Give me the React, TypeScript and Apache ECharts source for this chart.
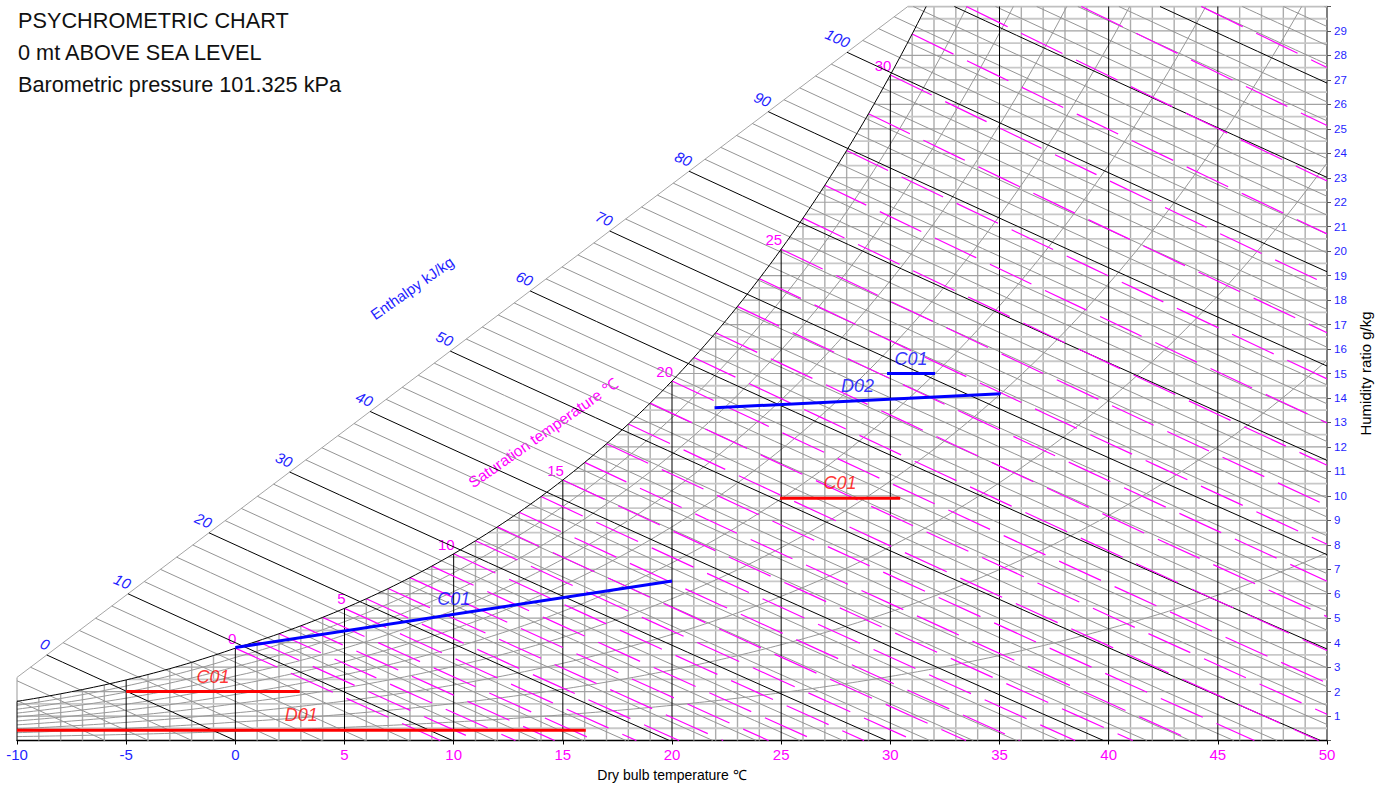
import React, { useEffect, useRef } from "react";
import * as echarts from "echarts";

const FONT = "'Liberation Sans', Arial, Helvetica, sans-serif";

// ---- texts / settings ----
const TITLE_LINES = ["PSYCHROMETRIC CHART", "0 mt ABOVE SEA LEVEL", "Barometric pressure 101.325 kPa"];
const PRESSURE_KPA = 101.325;
const DRY_BULB_MIN = -10;
const DRY_BULB_MAX = 50;
const DRY_BULB_TICK = 5;
const W_MIN = 0;
const W_MAX = 30;
const RH_LEVELS = [10, 20, 30, 40, 50, 60, 70, 80, 90];
const ENTHALPY_MIN = -6;
const ENTHALPY_MAX = 128;
const ENTHALPY_STEP = 2;
const ENTHALPY_MAJOR = 10;
const ENTHALPY_LABELS = [0, 10, 20, 30, 40, 50, 60, 70, 80, 90, 100];
const WET_BULB_MIN = 0;
const WET_BULB_MAX = 36;
const SAT_TEMP_LABELS = [0, 5, 10, 15, 20, 25, 30];
const ENTHALPY_SCALE_START = [-10, 2.58];
const ENTHALPY_SCALE_END = [30.8, 30];
const W_GRID_STEP = 0.5;

// ---- process lines ----
const PROCESS_NAMES = ["C01", "D02", "C01", "C01", "C01", "D01"];
const PROCESS_COLORS = ["#0000ff", "#0000ff", "#0000ff", "#ff0000", "#ff0000", "#ff0000"];
const PROCESS_T_START = [0, 21.95, 29.85, 24.95, -5, -10];
const PROCESS_W_START = [3.8, 13.6, 15.0, 9.9, 2.0, 0.42];
const PROCESS_T_END = [20, 35.05, 32.05, 30.45, 2.95, 16.05];
const PROCESS_W_END = [6.52, 14.17, 15.0, 9.9, 2.0, 0.42];

// ---- psychrometric relations ----
function pws(tC: number): number {
  const T = tC + 273.15;
  let ln: number;
  if (tC < 0) {
    ln = -5.6745359e3 / T + 6.3925247 - 9.677843e-3 * T + 6.2215701e-7 * T * T +
      2.0747825e-9 * T ** 3 - 9.484024e-13 * T ** 4 + 4.1635019 * Math.log(T);
  } else {
    ln = -5.8002206e3 / T + 1.3914993 - 4.8640239e-2 * T + 4.1764768e-5 * T * T -
      1.4452093e-8 * T ** 3 + 6.5459673 * Math.log(T);
  }
  return Math.exp(ln) / 1000;
}
function wFromRh(t: number, rh: number) {
  const pw = rh * pws(t);
  return (621.945 * pw) / (PRESSURE_KPA - pw);
}
const wSat = (t: number) => wFromRh(t, 1);
function bisect(f: (x: number) => number, lo: number, hi: number) {
  let flo = f(lo);
  for (let i = 0; i < 70; i++) {
    const mid = (lo + hi) / 2;
    const fm = f(mid);
    if ((fm > 0) === (flo > 0)) { lo = mid; flo = fm; } else hi = mid;
  }
  return (lo + hi) / 2;
}
const tSat = (w: number) => bisect((t) => wSat(t) - w, -60, 70);
const hOf = (t: number, w: number) => 1.006 * t + (w / 1000) * (2501 + 1.86 * t);
const wOnH = (h: number, t: number) => (1000 * (h - 1.006 * t)) / (2501 + 1.86 * t);
const wB = (t: number) =>
  ENTHALPY_SCALE_START[1] +
  ((t - ENTHALPY_SCALE_START[0]) * (ENTHALPY_SCALE_END[1] - ENTHALPY_SCALE_START[1])) /
    (ENTHALPY_SCALE_END[0] - ENTHALPY_SCALE_START[0]);
const boundaryT = (h: number) =>
  bisect((t) => hOf(t, wB(t)) - h, ENTHALPY_SCALE_START[0], ENTHALPY_SCALE_END[0]);
function wWb(t: number, twb: number) {
  const ws = wSat(twb) / 1000;
  return (1000 * ((2501 - 2.326 * twb) * ws - 1.006 * (t - twb))) / (2501 + 1.86 * t - 4.186 * twb);
}

function range(a: number, b: number, step: number) {
  const out: number[] = [];
  for (let v = a; v <= b + 1e-9; v += step) out.push(Math.round(v * 1000) / 1000);
  return out;
}

function buildSeries() {
  const s: any[] = [];
  const add = (pts: number[][], color: string, width: number, z: number, type: any = "solid") =>
    s.push({
      type: "line",
      data: pts,
      symbol: "none",
      showSymbol: false,
      silent: true,
      z,
      lineStyle: { color, width, type, cap: "butt" },
      emphasis: { disabled: true },
      animation: false,
    });

  // vertical dry-bulb lines
  range(DRY_BULB_MIN, DRY_BULB_MAX - 1, 1).forEach((t) => {
    const top = Math.min(wSat(t), W_MAX);
    const major = t % DRY_BULB_TICK === 0;
    add([[t, W_MIN], [t, top]], major ? "#000000" : "#acacac", major ? 1 : 1.4, major ? 3 : 1);
  });
  add([[DRY_BULB_MIN, wSat(DRY_BULB_MIN)], ENTHALPY_SCALE_START], "#aaaaaa", 1.2, 2);

  // horizontal humidity lines
  range(W_GRID_STEP, W_MAX - W_GRID_STEP, W_GRID_STEP).forEach((w) => {
    const t0 = Math.max(DRY_BULB_MIN, tSat(w));
    const integer = Math.abs(w - Math.round(w)) < 1e-6;
    add([[t0, w], [DRY_BULB_MAX, w]], integer ? "#a2a2a2" : "#c8c8c8", integer ? 1.2 : 1.8, 1);
  });
  add([ENTHALPY_SCALE_END, [DRY_BULB_MAX, W_MAX]], "#c0c0c0", 1.8, 1);

  // enthalpy scale boundary
  add([ENTHALPY_SCALE_START, ENTHALPY_SCALE_END], "#a6a6a6", 1, 2);

  // RH curves
  RH_LEVELS.forEach((rh) => {
    const pts: number[][] = [];
    for (let t = DRY_BULB_MIN; t <= DRY_BULB_MAX + 1e-9; t += 0.25) {
      const w = wFromRh(t, rh / 100);
      if (w > W_MAX) {
        const te = bisect((x) => wFromRh(x, rh / 100) - W_MAX, t - 0.25, t);
        pts.push([te, W_MAX]);
        break;
      }
      pts.push([t, w]);
    }
    add(pts, "#989898", 1, 2);
  });

  // enthalpy lines
  range(ENTHALPY_MIN, ENTHALPY_MAX, ENTHALPY_STEP).forEach((h) => {
    const hB0 = hOf(ENTHALPY_SCALE_START[0], ENTHALPY_SCALE_START[1]);
    const hB1 = hOf(ENTHALPY_SCALE_END[0], ENTHALPY_SCALE_END[1]);
    let tS: number;
    if (h < hB0) tS = DRY_BULB_MIN;
    else if (h <= hB1) tS = boundaryT(h);
    else tS = (h - (W_MAX / 1000) * 2501) / (1.006 + (W_MAX / 1000) * 1.86);
    const tE = Math.min(h / 1.006, DRY_BULB_MAX);
    if (tE <= tS) return;
    const pts: number[][] = [];
    const n = 12;
    for (let i = 0; i <= n; i++) {
      const t = tS + ((tE - tS) * i) / n;
      pts.push([t, Math.max(0, Math.min(W_MAX, wOnH(h, t)))]);
    }
    const major = h % ENTHALPY_MAJOR === 0;
    add(pts, major ? "#000000" : "#949494", 1, major ? 4 : 2);
  });

  // wet-bulb (saturation temperature) lines
  range(WET_BULB_MIN, WET_BULB_MAX, 1).forEach((twb) => {
    const ws = wSat(twb);
    const tS = ws <= W_MAX ? twb : bisect((t) => wWb(t, twb) - W_MAX, twb, 90);
    const tZero = twb + ((2501 - 2.326 * twb) * (ws / 1000)) / 1.006;
    const tE = Math.min(tZero, DRY_BULB_MAX);
    if (tS >= tE) return;
    const pts: number[][] = [];
    const n = 10;
    for (let i = 0; i <= n; i++) {
      const t = tS + ((tE - tS) * i) / n;
      pts.push([t, Math.max(0, Math.min(W_MAX, wWb(t, twb)))]);
    }
    add(pts, "#ff00ff", 1.2, 5, [46, 15]);
  });

  // saturation curve
  const sat: number[][] = [];
  const tTop = tSat(W_MAX);
  for (let t = DRY_BULB_MIN; t < tTop; t += 0.25) sat.push([t, wSat(t)]);
  sat.push([tTop, W_MAX]);
  add(sat, "#000000", 1, 6);

  // process lines
  PROCESS_NAMES.forEach((_, i) => {
    add(
      [[PROCESS_T_START[i], PROCESS_W_START[i]], [PROCESS_T_END[i], PROCESS_W_END[i]]],
      PROCESS_COLORS[i], 3, 10
    );
  });
  s.push({
    type: "scatter",
    symbolSize: 0,
    silent: true,
    z: 11,
    data: PROCESS_NAMES.map((name, i) => ({
      name,
      value: [(PROCESS_T_START[i] + PROCESS_T_END[i]) / 2, (PROCESS_W_START[i] + PROCESS_W_END[i]) / 2],
      label: { color: PROCESS_COLORS[i] },
    })),
    label: {
      show: true,
      position: "top",
      distance: 6,
      formatter: "{b}",
      fontSize: 18,
      fontStyle: "italic",
      fontFamily: FONT,
    },
    animation: false,
  });
  return s;
}

function buildOption() {
  return {
    animation: false,
    backgroundColor: "#ffffff",
    textStyle: { fontFamily: FONT },
    grid: { left: 17, right: 52, top: 6.5, bottom: 46.5, containLabel: false, outerBoundsMode: "none" },
    xAxis: {
      type: "value",
      min: DRY_BULB_MIN,
      max: DRY_BULB_MAX,
      interval: DRY_BULB_TICK,
      splitLine: { show: false },
      axisLine: { onZero: false, lineStyle: { color: "#000", width: 1.4 } },
      axisTick: { length: 4, lineStyle: { color: "#000" } },
      axisLabel: {
        margin: 6,
        showMinLabel: true,
        showMaxLabel: true,
        formatter: (v: number) => (v <= 0 ? `{b|${v}}` : `{m|${v}}`),
        rich: {
          b: { color: "#1f1fff", fontSize: 15, fontFamily: FONT },
          m: { color: "#ff00ff", fontSize: 15, fontFamily: FONT },
        },
      },
      name: "Dry bulb temperature ℃",
      nameLocation: "middle",
      nameGap: 27,
      nameTextStyle: { color: "#000", fontSize: 14, fontFamily: FONT },
    },
    yAxis: {
      type: "value",
      position: "right",
      min: W_MIN,
      max: W_MAX,
      interval: 1,
      splitLine: { show: false },
      axisLine: { show: true, onZero: false, lineStyle: { color: "#555", width: 1.5 } },
      axisTick: { show: true, length: 4, lineStyle: { color: "#555" } },
      axisLabel: {
        margin: 7,
        color: "#1f1fff",
        fontSize: 11.5,
        formatter: (v: number) => (v === W_MIN || v === W_MAX ? "" : String(v)),
      },
      name: "Humidity ratio g/kg",
      nameLocation: "middle",
      nameRotate: 90,
      nameGap: 19,
      nameTextStyle: { color: "#000", fontSize: 15, fontFamily: FONT },
    },
    series: buildSeries(),
  };
}

function buildGraphic(chart: any) {
  const px = (t: number, w: number) => chart.convertToPixel({ gridIndex: 0 }, [t, w]) as number[];
  const els: any[] = [];
  TITLE_LINES.forEach((txt, i) =>
    els.push({
      type: "text",
      x: 18,
      y: 20 + 32 * i,
      silent: true,
      style: { text: txt, fill: "#111", fontSize: 21.7, fontFamily: FONT, verticalAlign: "middle", textVerticalAlign: "middle" },
    })
  );
  ENTHALPY_LABELS.forEach((h) => {
    const t = boundaryT(h);
    const p = px(t, wB(t));
    els.push({
      type: "text",
      x: p[0] + 2,
      y: p[1] - 9,
      rotation: (-24 * Math.PI) / 180,
      silent: true,
      style: {
        text: String(h), fill: "#1f1fff", fontSize: 15, fontStyle: "italic", fontFamily: FONT,
        align: "right", textAlign: "right", verticalAlign: "middle", textVerticalAlign: "middle",
      },
    });
  });
  SAT_TEMP_LABELS.forEach((t) => {
    const p = px(t, wSat(t));
    els.push({
      type: "text",
      x: p[0] + 1,
      y: p[1] - 2,
      silent: true,
      style: {
        text: String(t), fill: "#ff00ff", fontSize: 15, fontFamily: FONT,
        align: "right", textAlign: "right", verticalAlign: "bottom", textVerticalAlign: "bottom",
      },
    });
  });
  els.push({
    type: "text", x: 412, y: 288, rotation: (35 * Math.PI) / 180, silent: true,
    style: { text: "Enthalpy kJ/kg", fill: "#1f1fff", fontSize: 15, fontFamily: FONT, align: "center", textAlign: "center", verticalAlign: "middle", textVerticalAlign: "middle" },
  });
  els.push({
    type: "text", x: 543, y: 433, rotation: (35 * Math.PI) / 180, silent: true,
    style: { text: "Saturation temperature ℃", fill: "#ff00ff", fontSize: 15.5, fontFamily: FONT, align: "center", textAlign: "center", verticalAlign: "middle", textVerticalAlign: "middle" },
  });
  return els;
}

export default function App() {
  const ref = useRef<HTMLDivElement>(null);
  useEffect(() => {
    const el = ref.current;
    if (!el) return;
    const chart = echarts.init(el, null, { renderer: "svg" });
    chart.setOption(buildOption() as any);
    chart.setOption({ graphic: buildGraphic(chart) } as any);
    return () => chart.dispose();
  }, []);
  return (
    <div
      ref={ref}
      style={{ position: "fixed", left: 0, top: 0, width: 1379, height: 787, background: "#fff" }}
    />
  );
}
